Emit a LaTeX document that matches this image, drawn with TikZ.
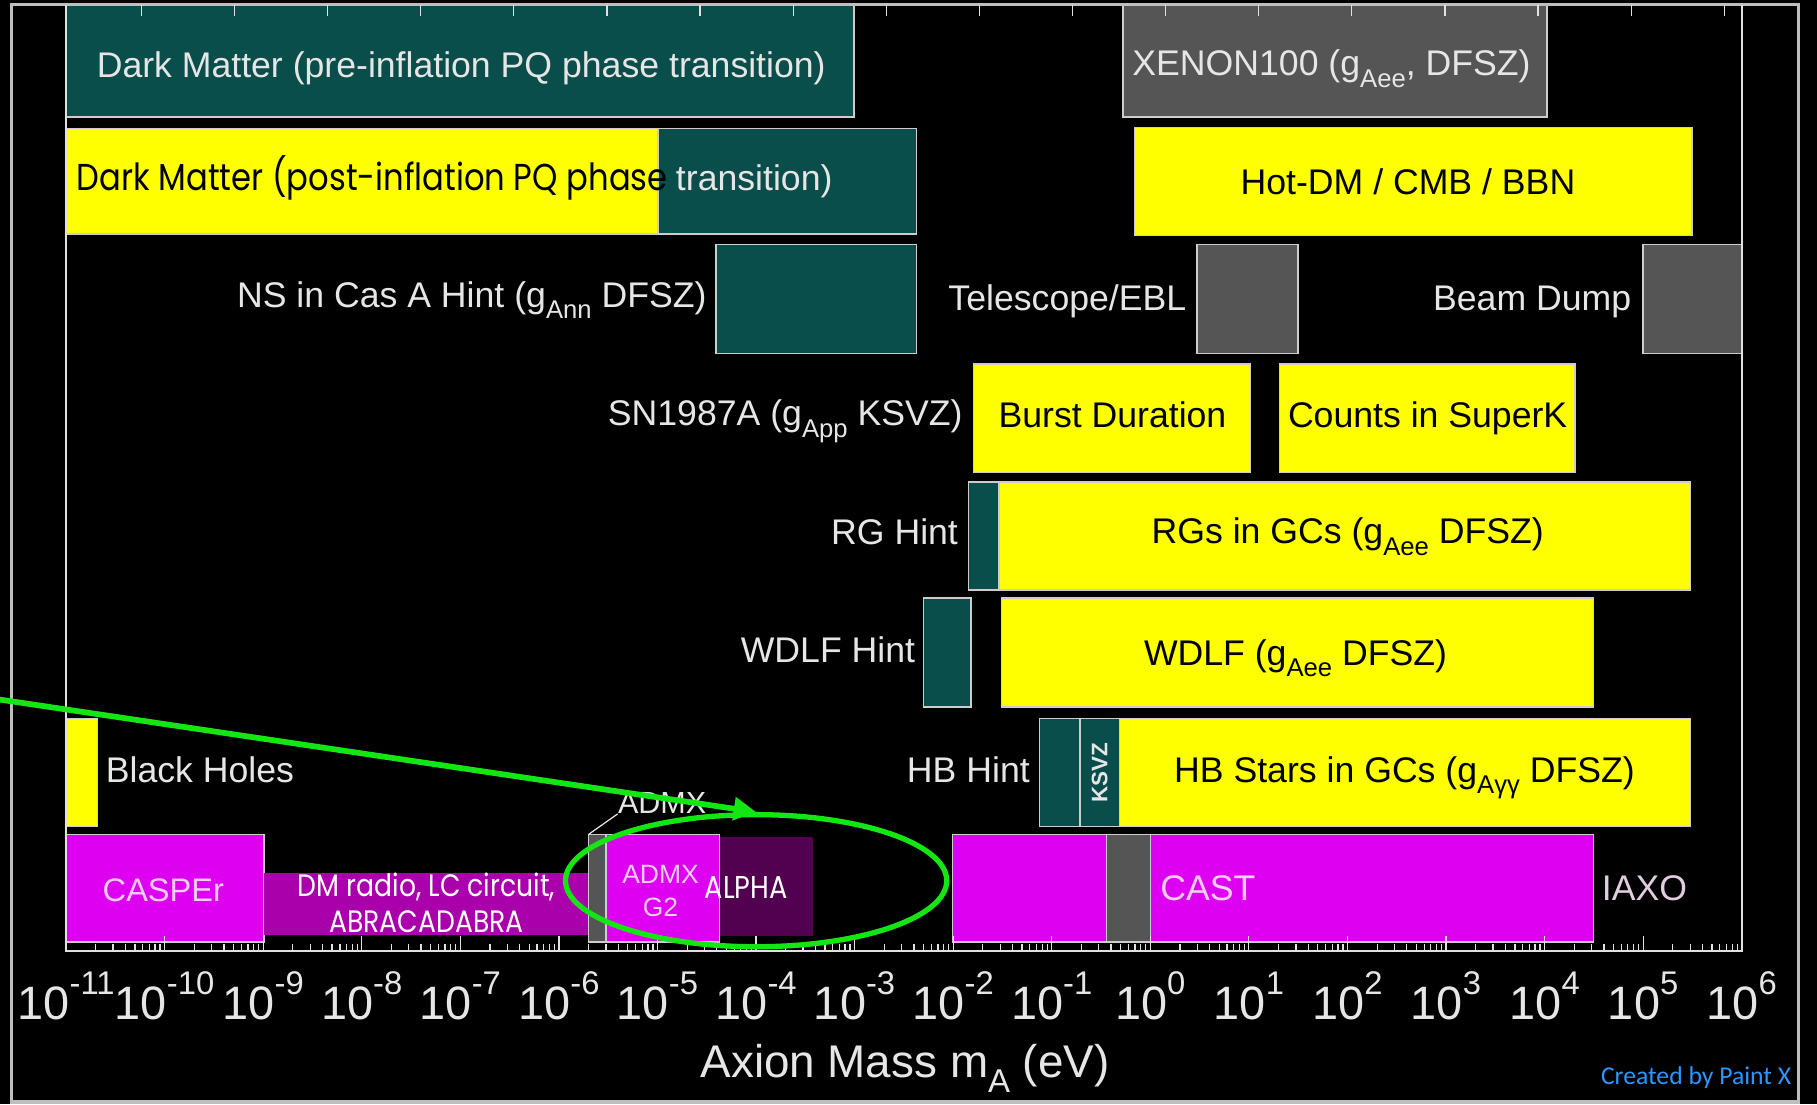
\documentclass[tikz,border=0pt]{standalone}
\usepackage{fontspec}
\usepackage{graphicx}
\setmainfont{Liberation Sans}
\newfontfamily\futura[FakeStretch=0.86]{Poppins}
\newfontfamily\paintx{Carlito}
\usetikzlibrary{shapes.geometric,arrows.meta}
\definecolor{dmteal}{RGB}{9,78,74}
\definecolor{dmgray}{RGB}{85,85,85}
\definecolor{dmyellow}{RGB}{255,255,0}
\definecolor{dmmag}{RGB}{222,0,240}
\definecolor{dmradio}{RGB}{170,0,172}
\definecolor{dmalpha}{RGB}{82,0,80}
\definecolor{dmgreen}{RGB}{20,230,20}
\definecolor{lighttxt}{RGB}{230,230,230}
\definecolor{pinktxt}{RGB}{245,205,245}
\definecolor{iaxotxt}{RGB}{225,205,225}
\definecolor{edgegray}{RGB}{205,205,205}
\definecolor{axisgray}{RGB}{225,225,225}
\definecolor{framegray}{RGB}{190,190,190}
\definecolor{paintblue}{RGB}{45,150,255}
\newcommand\lsub[1]{\raisebox{-0.33em}{\scalebox{0.72}{#1}}}
\newcommand\tenp[1]{10\raisebox{0.53em}{\scalebox{0.7}{#1}}}
\newcommand\bx[6]{\node[#1, minimum width={(#4-#2)*0.2mm}, minimum height={(#5-#3)*0.2mm}] (#6) at ({(#2+#4)/2},{(#3+#5)/2}) {};}
\begin{document}
\begin{tikzpicture}[x=0.2mm,y=-0.2mm,
  box/.style={rectangle, draw=edgegray, line width=0.7pt, inner sep=0pt, outer sep=0pt},
  flat/.style={rectangle, draw=none, inner sep=0pt, outer sep=0pt},
  lt/.style={inner sep=0pt, text=lighttxt, font=\fontsize{17.5}{21}\selectfont},
  dk/.style={inner sep=0pt, text=black, font=\fontsize{17.5}{21}\selectfont},
  tickln/.style={draw=axisgray, line width=0.6pt},
  frameln/.style={draw=axisgray, line width=1.1pt}]
\fill[black] (0,0) rectangle (1568,953);
\useasboundingbox (0,0) rectangle (1568,953);

% ---------- boxes ----------
\bx{box,fill=dmteal}{57}{5}{737}{101}{pre}
\bx{box,fill=dmgray}{969}{5}{1335}{101}{xenon}
\bx{box,fill=dmyellow}{57}{111}{568}{202}{posty}
\bx{box,fill=dmteal}{568}{111}{791}{202}{postt}
\bx{box,fill=dmyellow}{979}{110}{1460}{203}{hot}
\bx{box,fill=dmteal}{618}{211}{791}{305}{ns}
\bx{box,fill=dmgray}{1033}{211}{1120}{305}{tel}
\bx{box,fill=dmgray}{1418}{211}{1503}{305}{beam}
\bx{box,fill=dmyellow}{840}{314}{1079}{408}{burst}
\bx{box,fill=dmyellow}{1104}{314}{1359}{408}{superk}
\bx{box,fill=dmteal}{836}{416}{862}{509}{rgt}
\bx{box,fill=dmyellow}{862}{416}{1459}{509}{rgy}
\bx{box,fill=dmteal}{797}{516}{838}{610}{wdt}
\bx{box,fill=dmyellow}{864}{516}{1375}{610}{wdy}
\bx{box,fill=dmyellow}{57}{620}{84}{713}{bh}
\bx{box,fill=dmteal}{897}{620}{932}{713}{hbt}
\bx{box,fill=dmteal}{932}{620}{966}{713}{ksvz}
\bx{box,fill=dmyellow}{966}{620}{1459}{713}{hby}
\bx{box,fill=dmmag}{57}{720}{228}{813}{casper}
\bx{flat,fill=dmradio}{228}{753}{509}{807}{dmr}
\bx{box,fill=dmgray}{508}{720}{523}{813}{admx}
\bx{box,fill=dmmag}{523}{720}{621}{813}{admxg}
\bx{flat,fill=dmalpha}{621}{722}{702}{808}{alpha}
\bx{box,fill=dmmag}{822}{720}{955}{813}{casta}
\bx{box,fill=dmgray}{955}{720}{993}{813}{castg}
\bx{box,fill=dmmag}{993}{720}{1375}{813}{castb}

% ---------- texts ----------
\node[lt, anchor=base] (tpre) at (398,67) {Dark Matter (pre-inflation PQ phase transition)};
\node[lt, anchor=base] (txen) at (1149,65) {XENON100 (g\lsub{Aee}, DFSZ)};
\node[inner sep=0pt, anchor=base west, text=black, font=\futura\fontsize{18.4}{22}\selectfont] (tpost) at (66,164) {Dark Matter (post-inflation PQ phase};
\node[lt, anchor=base west] (ttrans) at (583,164) {transition)};
\node[dk, anchor=base] (thot) at (1215,168) {Hot-DM / CMB / BBN};
\node[lt, anchor=base east] (tns) at (610,265) {NS in Cas A Hint (g\lsub{Ann} DFSZ)};
\node[lt, anchor=base east] (ttel) at (1024,268) {Telescope/EBL};
\node[lt, anchor=base east] (tbeam) at (1408,268) {Beam Dump};
\node[lt, anchor=base east] (tsn) at (831,367) {SN1987A (g\lsub{App} KSVZ)};
\node[dk, anchor=base] (tburst) at (960,369) {Burst Duration};
\node[dk, anchor=base] (tsuperk) at (1232,369) {Counts in SuperK};
\node[lt, anchor=base east] (trghint) at (827,470) {RG Hint};
\node[dk, anchor=base] (trgs) at (1163,469) {RGs in GCs (g\lsub{Aee} DFSZ)};
\node[lt, anchor=base east] (twdhint) at (790,572) {WDLF Hint};
\node[dk, anchor=base] (twdlf) at (1118,574) {WDLF (g\lsub{Aee} DFSZ)};
\node[lt, anchor=base west] (tbh) at (91,675) {Black Holes};
\node[lt, anchor=base east] (thbhint) at (889,675) {HB Hint};
\node[dk, anchor=base] (thb) at (1212,675) {HB Stars in GCs (g\lsub{Aγγ} DFSZ)};
\node[inner sep=0pt, text=lighttxt, rotate=90, font=\bfseries\fontsize{11}{13}\selectfont] (tksvz) at (ksvz.center) {KSVZ};
\node[inner sep=0pt, anchor=base, text=pinktxt, font=\fontsize{16}{19}\selectfont] (tcasper) at (141,778) {CASPEr};
\node[inner sep=0pt, anchor=base, text=white, font=\futura\fontsize{15.2}{18}\selectfont] (tdm1) at (368,774) {DM radio, LC circuit,};
\node[inner sep=0pt, anchor=base, text=white, font=\futura\fontsize{15.2}{18}\selectfont] (tdm2) at (368,805) {ABRACADABRA};
\node[inner sep=0pt, anchor=base west, text=lighttxt, font=\fontsize{15}{18}\selectfont] (tadmxl) at (533,702) {ADMX};
\node[inner sep=0pt, anchor=base, text=pinktxt, font=\fontsize{13}{15}\selectfont] (tg2a) at (570,762) {ADMX};
\node[inner sep=0pt, anchor=base, text=pinktxt, font=\fontsize{13}{15}\selectfont] (tg2b) at (570,791) {G2};
\node[inner sep=0pt, anchor=base, text=white, font=\futura\fontsize{15.5}{18}\selectfont] (talpha) at (644,775) {ALPHA};
\node[inner sep=0pt, anchor=base west, text=pinktxt, font=\fontsize{17.5}{21}\selectfont] (tcast) at (1001,777) {CAST};
\node[inner sep=0pt, anchor=base west, text=iaxotxt, font=\fontsize{17.5}{21}\selectfont] (tiaxo) at (1382,777) {IAXO};
\node[inner sep=0pt, anchor=base east, text=paintblue, font=\paintx\fontsize{12.6}{15}\selectfont] (tpaint) at (1546,936) {Created by Paint X};

% ---------- frame and axis ----------
\draw[draw=framegray, line width=1.6pt] (10,4) rectangle (1552,951);
\draw[frameln] (57,4) -- (57,821) -- (1503,821) -- (1503,4);
\foreach \i in {0,...,17} { \draw[tickln] ({122+80.35*\i},4) -- ++(0,10); }
\foreach \n in {0,...,17} { \draw[tickln] ({57+85.06*\n},821) -- ++(0,-13); }
\foreach \n in {0,...,16} { \foreach \k in {2,...,9} {
  \draw[tickln] ({57+85.06*(\n+log10(\k))},821) -- ++(0,-6); } }
\foreach \n/\e in {0/-11,1/-10,2/-9,3/-8,4/-7,5/-6,6/-5,7/-4,8/-3,9/-2,10/-1,11/0,12/1,13/2,14/3,15/4,16/5,17/6} {
  \node[inner sep=0pt, anchor=base, text=lighttxt, font=\fontsize{23}{27}\selectfont] (ax\n) at ({57+85.06*\n},880) {\tenp{\e}}; }
\node[inner sep=0pt, anchor=base, text=lighttxt, font=\fontsize{22.5}{26}\selectfont] (axtitle) at (781,930) {Axion Mass m\lsub{A} (eV)};

% ---------- ADMX pointer, ellipse, arrow ----------
\draw[draw=lighttxt, line width=0.6pt] (admx.north west) -- (tadmxl.south west);
\node[ellipse, draw=dmgreen, line width=2.6pt, inner sep=0pt, minimum width={329*0.2mm}, minimum height={114*0.2mm}] (ell) at (652.5,760) {};
\coordinate (astart) at (-5,603);
\draw[draw=dmgreen, line width=2.8pt, -{Triangle[length=11pt,width=11pt]}] (astart) -- (ell.north);
\end{tikzpicture}
\end{document}
